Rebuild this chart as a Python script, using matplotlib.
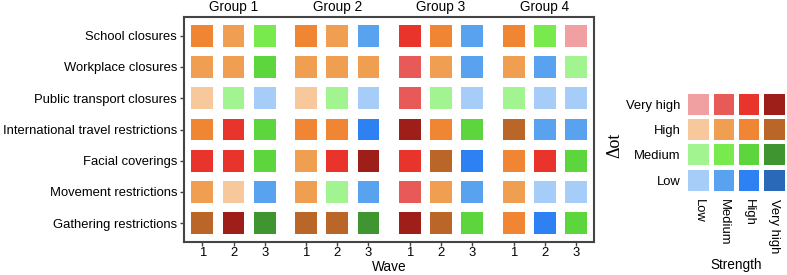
import numpy as np
import matplotlib.pyplot as plt
from matplotlib.patches import Rectangle

plt.rcParams['font.family'] = ['Liberation Sans', 'DejaVu Sans']

# kategorie
measures = ['School closures', 'Workplace closures', 'Public transport closures',
            'International travel restrictions', 'Facial coverings',
            'Movement restrictions', 'Gathering restrictions']
groups = ['Group 1', 'Group 2', 'Group 3', 'Group 4']
waves = ['1', '2', '3']
levels = ['Low', 'Medium', 'High', 'Very high']

# poziom delta ot: 0=Low(niebieski), 1=Medium(zielony), 2=High(pomaranczowy), 3=Very high(czerwony)
# kolumny: grupa 1 (fale 1-3), grupa 2, grupa 3, grupa 4
delta = [
    [2, 2, 1, 2, 2, 0, 3, 2, 0, 2, 1, 3],
    [2, 2, 1, 2, 2, 2, 3, 2, 0, 2, 0, 1],
    [2, 1, 0, 2, 1, 0, 3, 1, 0, 1, 0, 0],
    [2, 3, 1, 2, 2, 0, 3, 2, 1, 2, 0, 0],
    [3, 3, 1, 2, 3, 3, 3, 2, 0, 2, 3, 1],
    [2, 2, 0, 2, 1, 0, 3, 2, 0, 2, 0, 0],
    [2, 3, 1, 2, 2, 1, 3, 2, 1, 2, 0, 1],
]
# sila: 0=Low, 1=Medium, 2=High, 3=Very high
strength = [
    [2, 1, 1, 2, 1, 1, 2, 2, 1, 2, 1, 0],
    [1, 1, 2, 1, 1, 1, 1, 1, 1, 1, 1, 0],
    [0, 0, 0, 0, 0, 0, 1, 0, 0, 0, 0, 0],
    [2, 2, 2, 2, 2, 2, 3, 2, 2, 3, 1, 1],
    [2, 2, 2, 1, 2, 3, 2, 3, 2, 2, 2, 2],
    [1, 0, 1, 1, 0, 1, 1, 1, 1, 1, 0, 0],
    [3, 3, 3, 3, 3, 3, 3, 3, 2, 2, 2, 2],
]

# paleta: wiersz = delta, kolumna = sila
palette = [
    ['#a6cdf7', '#58a2f0', '#2d81f2', '#2a68b8'],
    ['#a2f490', '#78ea4e', '#5dd63d', '#3f9631'],
    ['#f7c89b', '#f09e52', '#f08633', '#ba6629'],
    ['#f0a0a0', '#e85a58', '#e8342a', '#9e1f19'],
]

fig = plt.figure(figsize=(7.87, 2.75), dpi=100)

# glowny wykres
ax = fig.add_axes([184 / 787, 1 - 242 / 275, 410 / 787, 225 / 275])
gap = 3.33
xs = [g * gap + c for g in range(len(groups)) for c in range(len(waves))]
sq = 0.7
for i in range(len(measures)):
    for j, x in enumerate(xs):
        col = palette[delta[i][j]][strength[i][j]]
        ax.add_patch(Rectangle((x - sq / 2, i - sq / 2), sq, sq, color=col, lw=0))

ax.set_xlim(-0.59, xs[-1] + 0.58)
ax.set_ylim(len(measures) - 1 + 0.6, -0.6)
ax.set_yticks(range(len(measures)))
ax.set_yticklabels(measures, fontsize=9.4)
ax.set_xticks(xs)
ax.set_xticklabels(waves * len(groups), fontsize=9.4)
ax.tick_params(axis='y', length=3, width=1, color='#444444', pad=2)
ax.tick_params(axis='x', length=3, width=1, color='#444444', pad=0.5)
for s in ax.spines.values():
    s.set_color('#444444')
    s.set_linewidth(1.5)
ax.set_xlabel('Wave', fontsize=9.8, labelpad=0.5)
for g, name in enumerate(groups):
    ax.text(g * gap + 1, -0.7, name, ha='center', va='bottom', fontsize=9.8)

# legenda
lax = fig.add_axes([686 / 787, 1 - 193 / 275, 101 / 787, 101.6 / 275])
for r in range(4):
    for c in range(4):
        lax.add_patch(Rectangle((c - 0.41, r - 0.41), 0.82, 0.82,
                                color=palette[r][c], lw=0))
lax.set_xlim(-0.5, 3.5)
lax.set_ylim(-0.5, 3.5)
lax.set_yticks(range(4))
lax.set_yticklabels(levels, fontsize=9.4)
lax.set_xticks(range(4))
lax.set_xticklabels(levels, fontsize=9.4, rotation=-90, va='top')
lax.tick_params(length=0, pad=4)
for s in lax.spines.values():
    s.set_visible(False)
lax.set_xlabel('Strength', fontsize=9.8, labelpad=4)
fig.text(615 / 787, 1 - 145 / 275, '\u0394ot', rotation=90, ha='center', va='center',
         fontsize=13, family=['Liberation Serif', 'DejaVu Serif'])

fig.savefig('out.png', dpi=100)
